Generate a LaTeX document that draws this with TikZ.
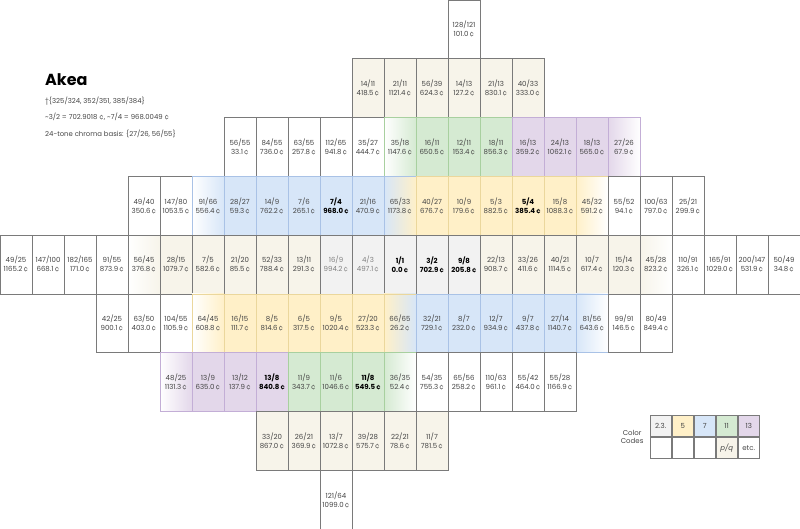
\documentclass[tikz,border=0pt]{standalone}
\usepackage{fontspec}
\newfontfamily\uifont{Poppins}
\usetikzlibrary{positioning}
\definecolor{txt}{HTML}{444444}
\definecolor{lineg}{HTML}{7A7A7A}
\definecolor{beic}{HTML}{F7F4EA}
\definecolor{gryc}{HTML}{F2F2F2}
\definecolor{yelc}{HTML}{FFF0C8}
\definecolor{yelb}{HTML}{EBD79C}
\definecolor{bluc}{HTML}{D7E6F8}
\definecolor{blub}{HTML}{A9C2E6}
\definecolor{grnc}{HTML}{D5EAD2}
\definecolor{grnb}{HTML}{A8D09F}
\definecolor{purc}{HTML}{E3D7EA}
\definecolor{purb}{HTML}{C3AED6}
\tikzset{
  cell/.style={draw=lineg, line width=0.6pt, minimum width=32pt, minimum height=58.78pt,
    inner sep=0pt, align=center, text=txt, font=\uifont\fontsize{7}{9}\selectfont},
  bf/.style={font=\uifont\bfseries\fontsize{7}{9}\selectfont, text=black},
  wht/.style={cell, fill=white},
  bei/.style={cell, fill=beic},
  gry/.style={cell, fill=gryc},
  yel/.style={cell, fill=yelc, draw=yelb},
  blu/.style={cell, fill=bluc, draw=blub},
  grn/.style={cell, fill=grnc, draw=grnb},
  pur/.style={cell, fill=purc, draw=purb},
  gryL/.style={gry, text=gray},
  gryB/.style={gry, bf},
  yelB/.style={yel, bf},
  bluB/.style={blu, bf},
  grnB/.style={grn, bf},
  purB/.style={pur, bf},
  inBe/.style={cell, left color=white, right color=beic},
  outBe/.style={cell, left color=beic, right color=white},
  inG/.style={cell, left color=white, right color=grnc, draw=grnb},
  outG/.style={cell, left color=grnc, right color=white, draw=grnb},
  inP/.style={cell, left color=white, right color=purc, draw=purb},
  outP/.style={cell, left color=purc, right color=white, draw=purb},
  inBl/.style={cell, left color=white, right color=bluc, draw=blub},
  outBl/.style={cell, left color=bluc, right color=white, draw=blub},
  inY/.style={cell, left color=white, right color=yelc, draw=yelb},
  outY/.style={cell, left color=yelc, right color=white, draw=yelb},
  BlY/.style={cell, left color=bluc, right color=yelc, draw=blub},
  YBl/.style={cell, left color=yelc, right color=bluc, draw=yelb},
  key/.style={draw=lineg, line width=0.6pt, minimum width=21.4pt, minimum height=21.5pt,
    inner sep=0pt, text=txt, font=\uifont\fontsize{7}{8.5}\selectfont},
  info/.style={anchor=west, inner sep=0pt, text=txt, font=\uifont\fontsize{6.9}{8}\selectfont}
}
\begin{document}
\begin{tikzpicture}[x=1pt,y=1pt]
\useasboundingbox (0,0) rectangle (800,-529);
% title block
\node[info, font=\uifont\bfseries\fontsize{16}{18}\selectfont, text=black] (title) at (45,-80) {Akea};
\node[info] (comma) at (45,-101) {†\{325/324, 352/351, 385/384\}};
\node[info] (tune) at (45,-117) {\textasciitilde3/2 = 702.9018 ¢, \textasciitilde7/4 = 968.0049 ¢};
\node[info] (basis) at (45,-134) {24-tone chroma basis: \{27/26, 56/55\}};
% lattice
\foreach \cc/\rr/\ss/\nn/\vv in {
  14/0/wht/{128/121}/{101.0},
  11/1/bei/{14/11}/{418.5}, 12/1/bei/{21/11}/{1121.4}, 13/1/bei/{56/39}/{624.3},
  14/1/bei/{14/13}/{127.2}, 15/1/bei/{21/13}/{830.1}, 16/1/bei/{40/33}/{333.0},
  7/2/wht/{56/55}/{33.1}, 8/2/wht/{84/55}/{736.0}, 9/2/wht/{63/55}/{257.8},
  10/2/wht/{112/65}/{941.8}, 11/2/wht/{35/27}/{444.7}, 12/2/inG/{35/18}/{1147.6},
  13/2/grn/{16/11}/{650.5}, 14/2/grn/{12/11}/{153.4}, 15/2/grn/{18/11}/{856.3},
  16/2/pur/{16/13}/{359.2}, 17/2/pur/{24/13}/{1062.1}, 18/2/pur/{18/13}/{565.0},
  19/2/outP/{27/26}/{67.9},
  4/3/wht/{49/40}/{350.6}, 5/3/wht/{147/80}/{1053.5}, 6/3/inBl/{91/66}/{556.4},
  7/3/blu/{28/27}/{59.3}, 8/3/blu/{14/9}/{762.2}, 9/3/blu/{7/6}/{265.1},
  10/3/bluB/{7/4}/{968.0}, 11/3/blu/{21/16}/{470.9}, 12/3/BlY/{65/33}/{1173.8},
  13/3/yel/{40/27}/{676.7}, 14/3/yel/{10/9}/{179.6}, 15/3/yel/{5/3}/{882.5},
  16/3/yelB/{5/4}/{385.4}, 17/3/yel/{15/8}/{1088.3}, 18/3/outY/{45/32}/{591.2},
  19/3/wht/{55/52}/{94.1}, 20/3/wht/{100/63}/{797.0}, 21/3/wht/{25/21}/{299.9},
  0/4/wht/{49/25}/{1165.2}, 1/4/wht/{147/100}/{668.1}, 2/4/wht/{182/165}/{171.0},
  3/4/wht/{91/55}/{873.9}, 4/4/inBe/{56/45}/{376.8}, 5/4/bei/{28/15}/{1079.7},
  6/4/bei/{7/5}/{582.6}, 7/4/bei/{21/20}/{85.5}, 8/4/bei/{52/33}/{788.4},
  9/4/bei/{13/11}/{291.3}, 10/4/gryL/{16/9}/{994.2}, 11/4/gryL/{4/3}/{497.1},
  12/4/gryB/{1/1}/{0.0}, 13/4/gryB/{3/2}/{702.9}, 14/4/gryB/{9/8}/{205.8},
  15/4/bei/{22/13}/{908.7}, 16/4/bei/{33/26}/{411.6}, 17/4/bei/{40/21}/{1114.5},
  18/4/bei/{10/7}/{617.4}, 19/4/bei/{15/14}/{120.3}, 20/4/outBe/{45/28}/{823.2},
  21/4/wht/{110/91}/{326.1}, 22/4/wht/{165/91}/{1029.0}, 23/4/wht/{200/147}/{531.9},
  24/4/wht/{50/49}/{34.8},
  3/5/wht/{42/25}/{900.1}, 4/5/wht/{63/50}/{403.0}, 5/5/wht/{104/55}/{1105.9},
  6/5/inY/{64/45}/{608.8}, 7/5/yel/{16/15}/{111.7}, 8/5/yel/{8/5}/{814.6},
  9/5/yel/{6/5}/{317.5}, 10/5/yel/{9/5}/{1020.4}, 11/5/yel/{27/20}/{523.3},
  12/5/YBl/{66/65}/{26.2}, 13/5/blu/{32/21}/{729.1}, 14/5/blu/{8/7}/{232.0},
  15/5/blu/{12/7}/{934.9}, 16/5/blu/{9/7}/{437.8}, 17/5/blu/{27/14}/{1140.7},
  18/5/outBl/{81/56}/{643.6}, 19/5/wht/{99/91}/{146.5}, 20/5/wht/{80/49}/{849.4},
  5/6/inP/{48/25}/{1131.3}, 6/6/pur/{13/9}/{635.0}, 7/6/pur/{13/12}/{137.9},
  8/6/purB/{13/8}/{840.8}, 9/6/grn/{11/9}/{343.7}, 10/6/grn/{11/6}/{1046.6},
  11/6/grnB/{11/8}/{549.5}, 12/6/outG/{36/35}/{52.4}, 13/6/wht/{54/35}/{755.3},
  14/6/wht/{65/56}/{258.2}, 15/6/wht/{110/63}/{961.1}, 16/6/wht/{55/42}/{464.0},
  17/6/wht/{55/28}/{1166.9},
  8/7/bei/{33/20}/{867.0}, 9/7/bei/{26/21}/{369.9}, 10/7/bei/{13/7}/{1072.8},
  11/7/bei/{39/28}/{575.7}, 12/7/bei/{22/21}/{78.6}, 13/7/bei/{11/7}/{781.5},
  10/8/wht/{121/64}/{1099.0}}
  \node[\ss] (c\cc-\rr) at ({32*\cc+16},{-(58.78*\rr+29.39)}) {\nn\\\vv\,¢};
% legend
\node[key, fill=gryc] (k1) at (660.7,-425.8) {2.3.};
\node[key, fill=yelc, right=0pt of k1] (k2) {5};
\node[key, fill=bluc, right=0pt of k2] (k3) {7};
\node[key, fill=grnc, right=0pt of k3] (k4) {11};
\node[key, fill=purc, right=0pt of k4] (k5) {13};
\node[key, below=0pt of k1] (l1) {};
\node[key, below=0pt of k2] (l2) {};
\node[key, below=0pt of k3] (l3) {};
\node[key, fill=beic, below=0pt of k4] (l4) {\itshape p/q};
\node[key, below=0pt of k5] (l5) {etc.};
\node[key, draw=none, align=center, left=6pt of k1.south west] (codes) {Color\\Codes};
\end{tikzpicture}
\end{document}
